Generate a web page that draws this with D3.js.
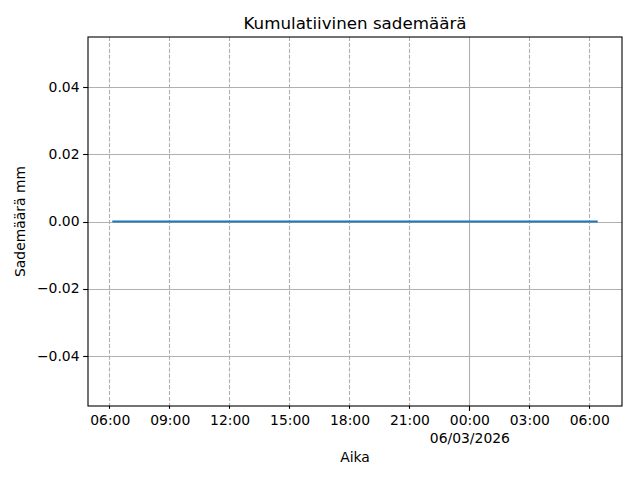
<!DOCTYPE html>
<meta charset="utf-8">
<script src="https://d3js.org/d3.v7.min.js"></script>
<style>
  body { margin: 0; background: #fff; }
  text { font-family: "DejaVu Sans", sans-serif; fill: #000; }
</style>
<div id="chart"></div>
<script>
// data: cumulative rainfall, hourly readings (all zero)
var times = [
  "2026-03-05T06:06", "2026-03-05T07:06", "2026-03-05T08:06", "2026-03-05T09:06",
  "2026-03-05T10:06", "2026-03-05T11:06", "2026-03-05T12:06", "2026-03-05T13:06",
  "2026-03-05T14:06", "2026-03-05T15:06", "2026-03-05T16:06", "2026-03-05T17:06",
  "2026-03-05T18:06", "2026-03-05T19:06", "2026-03-05T20:06", "2026-03-05T21:06",
  "2026-03-05T22:06", "2026-03-05T23:06", "2026-03-06T00:06", "2026-03-06T01:06",
  "2026-03-06T02:06", "2026-03-06T03:06", "2026-03-06T04:06", "2026-03-06T05:06",
  "2026-03-06T06:06", "2026-03-06T06:24"
];
var rain = [0, 0, 0, 0, 0, 0, 0, 0, 0, 0, 0, 0, 0, 0, 0, 0, 0, 0, 0, 0, 0, 0, 0, 0, 0, 0];
var yTicks = [-0.04, -0.02, 0.00, 0.02, 0.04];

var W = 640, H = 480;
var margin = {top: 37, right: 18, bottom: 74, left: 88};
var width = W - margin.left - margin.right,
    height = H - margin.top - margin.bottom;

var parse = d3.timeParse("%Y-%m-%dT%H:%M");
var data = times.map(function(t, i) { return {t: parse(t), v: rain[i]}; });

var svg = d3.select("#chart").append("svg")
    .attr("width", W).attr("height", H);
var g = svg.append("g")
    .attr("transform", "translate(" + margin.left + "," + margin.top + ")");

// x scale with 5% margins like matplotlib
var ext = d3.extent(data, function(d) { return d.t; });
var pad = (ext[1] - ext[0]) * 0.05;
var x = d3.scaleTime()
    .domain([new Date(+ext[0] - pad), new Date(+ext[1] + pad)])
    .range([0, width]);
var y = d3.scaleLinear().domain([-0.055, 0.055]).range([height, 0]);

var xTicks = d3.timeHour.every(3).range(x.domain()[0], x.domain()[1]);
var isMajor = function(d) { return d.getHours() === 0; };

// grid
g.append("g").selectAll("line")
  .data(yTicks).enter().append("line")
    .attr("x1", 0).attr("x2", width)
    .attr("y1", function(d) { return Math.round(y(d)) + 0.5; })
    .attr("y2", function(d) { return Math.round(y(d)) + 0.5; })
    .attr("stroke", "#b0b0b0").attr("stroke-width", 1.1);
g.append("g").selectAll("line")
  .data(xTicks).enter().append("line")
    .attr("x1", function(d) { return Math.round(x(d)) - 0.5; })
    .attr("x2", function(d) { return Math.round(x(d)) - 0.5; })
    .attr("y1", 0).attr("y2", height)
    .attr("stroke", "#b0b0b0").attr("stroke-width", 1.1)
    .attr("stroke-dasharray", function(d) { return isMajor(d) ? null : "4.1,1.8"; });

// line
var line = d3.line()
    .x(function(d) { return x(d.t); })
    .y(function(d) { return y(d.v); });
g.append("path").datum(data)
    .attr("fill", "none")
    .attr("stroke", "#1f77b4")
    .attr("stroke-width", 2.08)
    .attr("d", line);

// frame
g.append("rect")
    .attr("x", 0).attr("y", 0).attr("width", width).attr("height", height)
    .attr("fill", "none").attr("stroke", "#000").attr("stroke-width", 1.1);

// y axis
var yAx = g.append("g");
yAx.selectAll("line").data(yTicks).enter().append("line")
    .attr("x1", -4.9).attr("x2", 0)
    .attr("y1", function(d) { return Math.round(y(d)) + 0.5; })
    .attr("y2", function(d) { return Math.round(y(d)) + 0.5; })
    .attr("stroke", "#000").attr("stroke-width", 1.1);
yAx.selectAll("text").data(yTicks).enter().append("text")
    .attr("x", -8.5)
    .attr("y", function(d) { return y(d); })
    .attr("dy", "0.35em")
    .attr("text-anchor", "end")
    .style("font-size", "13.9px")
    .text(function(d) { return d3.format(".2f")(d).replace("-", "\u2212"); });

// x axis
var xAx = g.append("g").attr("transform", "translate(0," + height + ")");
xAx.selectAll("line").data(xTicks).enter().append("line")
    .attr("x1", function(d) { return Math.round(x(d)) - 0.5; })
    .attr("x2", function(d) { return Math.round(x(d)) - 0.5; })
    .attr("y1", 0)
    .attr("y2", function(d) { return isMajor(d) ? 4.9 : 2.8; })
    .attr("stroke", "#000").attr("stroke-width", 1.1);
var fmt = d3.timeFormat("%H:%M");
xAx.selectAll("text.tick").data(xTicks).enter().append("text")
    .attr("class", "tick")
    .attr("x", function(d) { return x(d); })
    .attr("y", 18.5)
    .attr("text-anchor", "middle")
    .style("font-size", "13.9px")
    .text(function(d) { return fmt(d); });
xAx.selectAll("text.date").data(xTicks.filter(isMajor)).enter().append("text")
    .attr("class", "date")
    .attr("x", function(d) { return x(d); })
    .attr("y", 37)
    .attr("text-anchor", "middle")
    .style("font-size", "13.9px")
    .text(d3.timeFormat("%d/%m/%Y"));

// labels
svg.append("text")
    .attr("x", margin.left + width / 2).attr("y", 29)
    .attr("text-anchor", "middle")
    .style("font-size", "16.7px")
    .text("Kumulatiivinen sademäärä");
svg.append("text")
    .attr("x", margin.left + width / 2).attr("y", 462)
    .attr("text-anchor", "middle")
    .style("font-size", "13.9px")
    .text("Aika");
svg.append("text")
    .attr("transform", "translate(25," + (margin.top + height / 2) + ") rotate(-90)")
    .attr("text-anchor", "middle")
    .style("font-size", "13.9px")
    .text("Sademäärä mm");
</script>
